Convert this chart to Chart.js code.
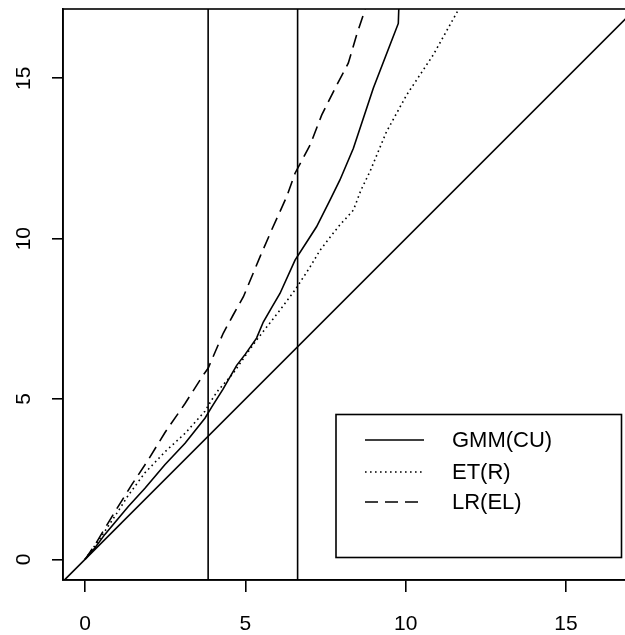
<!DOCTYPE html>
<html>
<head>
<meta charset="utf-8">
<script src="https://cdn.jsdelivr.net/npm/chart.js@4"></script>
<style>
body { margin: 0; overflow: hidden; background: #fff; }
#wrap { width: 640px; height: 635px; }
</style>
</head>
<body>
<div id="wrap"><canvas id="grafico" width="640" height="635"></canvas></div>
<script>
// ticks dos eixos
const xTicks = [0, 5, 10, 15]
const yTicks = [0, 5, 10, 15]

// nomes das series (legenda)
const nomes = ['GMM(CU)', 'ET(R)', 'LR(EL)']

// GMM(CU) - linha cheia
const gmmX = [0, 0.3, 0.62, 1.35, 1.87, 2.49, 3.12, 3.74, 3.95, 4.3, 4.73, 5.0, 5.35, 5.56, 5.82, 6.08, 6.55, 7.02, 7.22, 7.64, 7.95, 8.37, 8.99, 9.51, 9.77, 9.8]
const gmmY = [0, 0.35, 0.78, 1.65, 2.22, 2.95, 3.62, 4.4, 4.75, 5.3, 6.05, 6.4, 6.9, 7.4, 7.85, 8.29, 9.33, 10.06, 10.37, 11.2, 11.83, 12.82, 14.69, 16.04, 16.71, 17.6]

// ET(R) - pontilhada
const etX = [0, 0.5, 1.0, 1.35, 1.87, 2.49, 3.12, 3.74, 4.0, 4.16, 4.62, 5.0, 5.35, 5.67, 6.08, 6.55, 7.02, 7.33, 7.74, 7.95, 8.37, 8.6, 8.89, 9.4, 10.03, 10.86, 11.64, 11.75]
const etY = [0, 0.7, 1.45, 2.0, 2.7, 3.35, 3.93, 4.62, 5.05, 5.28, 5.8, 6.35, 6.84, 7.25, 7.77, 8.4, 9.12, 9.64, 10.17, 10.43, 10.89, 11.5, 12.1, 13.33, 14.48, 15.73, 17.13, 17.4]

// LR(EL) - tracejada
const lrX = [0, 0.31, 0.94, 1.46, 1.97, 2.49, 3.12, 3.69, 3.84, 4.31, 4.62, 4.94, 5.46, 5.82, 6.29, 6.55, 7.02, 7.38, 7.85, 8.21, 8.47, 8.73, 8.8]
const lrY = [0, 0.45, 1.5, 2.33, 3.1, 3.95, 4.86, 5.75, 5.96, 7.05, 7.62, 8.19, 9.44, 10.27, 11.31, 12.04, 12.92, 13.85, 14.79, 15.47, 16.35, 17.13, 17.4]

// valores criticos qui-quadrado(1) e reta de 45 graus
const criticos = [3.84, 6.63]
const diagonal = [-1, 18]

function pares(xs, ys) {
    return xs.map((v, i) => ({ x: v, y: ys[i] }))
}

const fonte = "'Liberation Sans', Arial, Helvetica, sans-serif"

const estilos = [
    { dash: [] },
    { dash: [1.6, 3.4] },
    { dash: [13, 7] }
]

let datasets = [
    { label: nomes[0], data: pares(gmmX, gmmY), borderDash: estilos[0].dash },
    { label: nomes[1], data: pares(etX, etY), borderDash: estilos[1].dash },
    { label: nomes[2], data: pares(lrX, lrY), borderDash: estilos[2].dash },
    { label: 'diag', data: pares(diagonal, diagonal), borderDash: [] }
]
for (let c of criticos) {
    datasets.push({ label: 'crit', data: [{ x: c, y: -5 }, { x: c, y: 25 }], borderDash: [] })
}
datasets = datasets.map(d => Object.assign(d, {
    borderColor: '#000',
    borderWidth: 1.6,
    pointRadius: 0,
    tension: 0,
    fill: false,
    clip: 0
}))

const legenda = {
    id: 'legenda',
    afterDraw(chart) {
        const ctx = chart.ctx
        const a = chart.chartArea
        ctx.save()
        ctx.strokeStyle = '#000'
        ctx.lineWidth = 1.6
        ctx.strokeRect(a.left, a.top, a.right - a.left, a.bottom - a.top)

        // caixa da legenda
        ctx.strokeRect(336, 414.5, 285.5, 143)
        const linhas = [440, 472, 502]
        ctx.font = '22px ' + fonte
        ctx.fillStyle = '#000'
        ctx.textBaseline = 'middle'
        for (let i = 0; i < nomes.length; i++) {
            ctx.beginPath()
            ctx.setLineDash(estilos[i].dash)
            ctx.moveTo(365, linhas[i])
            ctx.lineTo(424, linhas[i])
            ctx.stroke()
            ctx.fillText(nomes[i], 452, linhas[i] + 1)
        }
        ctx.restore()
    }
}

function semPadding(s) {
    s.paddingTop = 0
    s.paddingBottom = 0
    s.paddingLeft = 0
    s.paddingRight = 0
}

const ctx = document.getElementById('grafico').getContext('2d')
const grafico = new Chart(ctx, {
    type: 'line',
    data: { datasets: datasets },
    options: {
        responsive: false,
        animation: false,
        layout: { padding: { top: 9, right: 6, left: 0, bottom: 0 } },
        plugins: { legend: { display: false }, tooltip: { enabled: false } },
        scales: {
            x: {
                type: 'linear',
                min: -0.686,
                max: 17.12,
                afterBuildTicks: s => { s.ticks = xTicks.map(v => ({ value: v })) },
                afterFit: s => { s.height = 55; semPadding(s) },
                border: { display: true, color: '#000', width: 1.6 },
                grid: { drawOnChartArea: false, drawTicks: true, tickLength: 12, color: '#000', lineWidth: 1.6 },
                ticks: { color: '#000', font: { family: fonte, size: 21 }, padding: 20, maxRotation: 0 }
            },
            y: {
                type: 'linear',
                min: -0.642,
                max: 17.16,
                afterBuildTicks: s => { s.ticks = yTicks.map(v => ({ value: v })) },
                afterFit: s => { s.width = 63; semPadding(s) },
                border: { display: true, color: '#000', width: 1.6 },
                grid: { drawOnChartArea: false, drawTicks: true, tickLength: 11, color: '#000', lineWidth: 1.6 },
                ticks: { color: '#000', font: { family: fonte, size: 21 }, padding: 16, minRotation: 90, maxRotation: 90, crossAlign: 'center' }
            }
        }
    },
    plugins: [legenda]
})
</script>
</body>
</html>
